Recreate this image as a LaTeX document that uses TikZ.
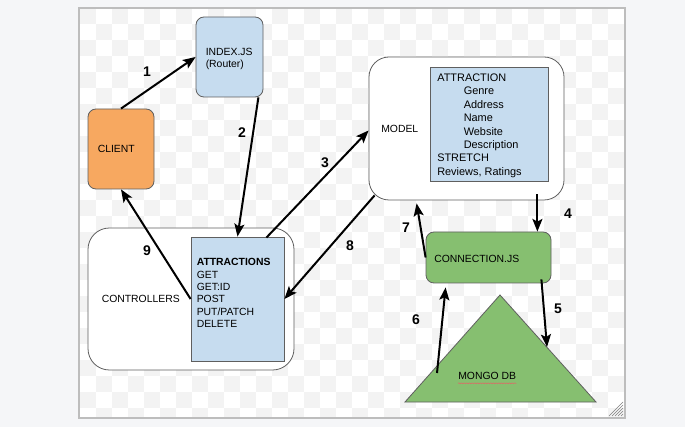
\documentclass[tikz,border=0pt]{standalone}
\usepackage{fontspec}
\setmainfont{Liberation Sans}
\usetikzlibrary{arrows.meta,calc,fit,decorations.pathmorphing}
\definecolor{bgout}{HTML}{F5F6F8}
\definecolor{chk}{HTML}{F3F3F3}
\definecolor{framec}{HTML}{BDBDBD}
\definecolor{boxblue}{HTML}{C6DCEF}
\definecolor{boxorange}{HTML}{F7A860}
\definecolor{boxgreen}{HTML}{86BF70}
\definecolor{edgec}{HTML}{5F5F5F}
\definecolor{squig}{HTML}{E06666}
\tikzset{
  shapebox/.style={draw=edgec, line width=0.6pt, inner sep=0pt},
  txt/.style={anchor=base west, inner sep=0pt, font=\fontsize{7.8}{9}\selectfont},
  mtxt/.style={anchor=base west, inner sep=0pt, font=\fontsize{8.2}{9}\selectfont},
  num/.style={inner sep=0pt, font=\fontsize{10.5}{12}\selectfont\bfseries},
  arr/.style={line width=1.5pt, -{Stealth[length=9.5pt,width=7.5pt,inset=2pt]}},
}
\begin{document}
\begin{tikzpicture}[x=0.75pt,y=-0.75pt]
\useasboundingbox (0,0) rectangle (685,427);
\fill[bgout] (0,0) rectangle (685,427);
\fill[white] (79,8) rectangle (625,418);
\begin{scope}
\clip (79,8) rectangle (625,418);
\foreach \i in {0,2,...,34}{
  \foreach \j in {0,2,...,26}{
    \fill[chk] ({80+\i*16},{8+\j*16}) rectangle ++(16,16);
    \fill[chk] ({96+\i*16},{24+\j*16}) rectangle ++(16,16);
  }
}
\end{scope}
\draw[framec, line width=0.8pt] (79,8) rectangle (625,418);
% resize handle
\foreach \k in {0,3,...,12}{
  \draw[gray, line width=0.5pt] ({609+\k},416) -- (623,{402+\k});
}

% boxes
\node[shapebox, fit={(196,17) (263,97)}, fill=boxblue, rounded corners=6pt] (idx) {};
\node[shapebox, fit={(88,109) (154,189)}, fill=boxorange, rounded corners=6pt] (cli) {};
\node[shapebox, fit={(369,57) (564,200)}, fill=white, rounded corners=15pt] (model) {};
\node[shapebox, fit={(430,67) (548,181)}, fill=boxblue] (mattr) {};
\node[shapebox, fit={(88,228) (294,370)}, fill=white, rounded corners=16pt] (ctrl) {};
\node[shapebox, fit={(191,237) (284,361)}, fill=boxblue] (catt) {};
\node[shapebox, fit={(426,232) (551,283)}, fill=boxgreen, rounded corners=6pt] (conn) {};
\coordinate (tA) at (500,295);
\coordinate (tR) at (596,402);
\coordinate (tL) at (405,402);
\draw[edgec, line width=0.6pt, fill=boxgreen] (tA) -- (tR) -- (tL) -- cycle;
\coordinate (m5) at (547,347);
\coordinate (m6) at (437,373);

% texts
\node[txt] (tidx1) at (205.5,55.5) {INDEX.JS};
\node[txt] (tidx2) at (205.5,68) {(Router)};
\node[txt] (tcli) at (97.5,152.8) {CLIENT};
\node[txt] (tmodel) at (381,133) {MODEL};
\node[mtxt] (ma1) at (437,81.6) {ATTRACTION};
\node[mtxt] (ma2) at (463.5,95) {Genre};
\node[mtxt] (ma3) at (463.5,108.4) {Address};
\node[mtxt] (ma4) at (463.5,121.8) {Name};
\node[mtxt] (ma5) at (463.5,135.2) {Website};
\node[mtxt] (ma6) at (463.5,148.6) {Description};
\node[mtxt] (ma7) at (437,162) {STRETCH};
\node[mtxt] (ma8) at (437,175.4) {Reviews, Ratings};
\node[txt] (tctrl) at (101.5,302.8) {CONTROLLERS};
\node[txt, font=\fontsize{7.8}{9}\selectfont\bfseries] (ca1) at (196.5,265.8) {ATTRACTIONS};
\node[txt] (ca2) at (196.5,278.2) {GET};
\node[txt] (ca3) at (196.5,290.6) {GET:ID};
\node[txt] (ca4) at (196.5,303) {POST};
\node[txt] (ca5) at (196.5,315.4) {PUT/PATCH};
\node[txt] (ca6) at (196.5,327.8) {DELETE};
\node[txt] (tconn) at (434,262.1) {CONNECTION.JS};
\node[txt] (tmongo) at (458,379.8) {MONGO DB};
\draw[squig, line width=0.4pt, decorate, decoration={snake, amplitude=0.35pt, segment length=2pt}]
  ($(tmongo.base west)+(0,3.5)$) -- ($(tmongo.base east)+(0,3.5)$);

% arrows
\draw[arr] (cli.north) -- (idx.west);
\draw[arr] ($(idx.south east)+(-5,0)$) -- (catt.north);
\draw[arr] ($(catt.north east)+(-18,1)$) -- ($(model.west)+(0,2)$);
\draw[arr] ($(model.south east)+(-27,-6)$) -- ($(conn.north east)+(-14,0)$);
\draw[arr] ($(conn.south east)+(-10,-4)$) -- (m5);
\draw[arr] (m6) -- ($(conn.south west)+(20,4)$);
\draw[arr] (conn.west) -- ($(model.south west)+(48,3)$);
\draw[arr] ($(model.south west)+(6,-5)$) -- (catt.east);
\draw[arr] (catt.west) -- (cli.south);

% labels
\node[num] (l1) at (147,72) {1};
\node[num] (l2) at (242,133) {2};
\node[num] (l3) at (325,163) {3};
\node[num] (l4) at (568,214) {4};
\node[num] (l5) at (558,309) {5};
\node[num] (l6) at (416,320) {6};
\node[num] (l7) at (406,228) {7};
\node[num] (l8) at (350,246) {8};
\node[num] (l9) at (147,251) {9};
\end{tikzpicture}
\end{document}
